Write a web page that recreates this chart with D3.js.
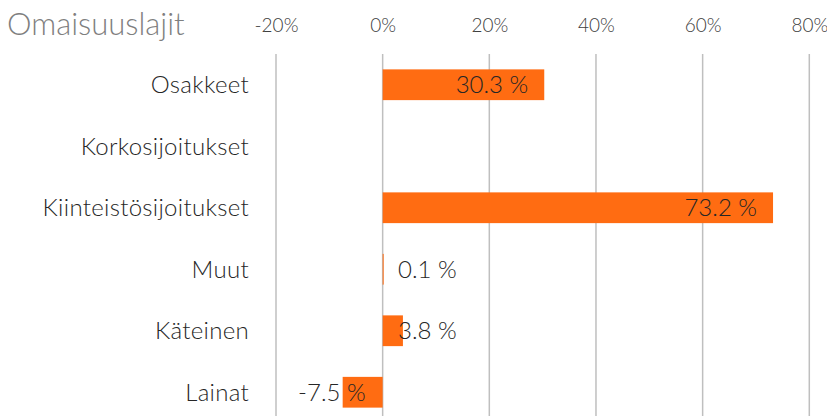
<!DOCTYPE html>
<html>
<head>
<meta charset="utf-8">
<script src="https://cdn.jsdelivr.net/npm/d3@7"></script>
<style>
  body { margin: 0; background: #fff; }
  text { font-family: Lato, "Open Sans", sans-serif; font-weight: 300; }
</style>
</head>
<body>
<div class="chart"></div>
<script>
const title = "Omaisuuslajit";
const categories = ["Osakkeet", "Korkosijoitukset", "Kiinteistösijoitukset", "Muut", "Käteinen", "Lainat"];
const values = [30.3, null, 73.2, 0.1, 3.8, -7.5];
const ticks = [-20, 0, 20, 40, 60, 80];

const width = 827, height = 416;

const svg = d3.select('.chart').append('svg')
  .attr('width', width)
  .attr('height', height);

const x = d3.scaleLinear()
  .domain([-20, 80])
  .range([276, 809.3]);

const y = d3.scaleBand()
  .domain(categories)
  .range([54, 423])
  .paddingInner(0.5)
  .paddingOuter(0.25);

// gridlines
svg.append('g')
  .selectAll('line')
  .data(ticks)
  .join('line')
  .attr('x1', d => x(d)).attr('x2', d => x(d))
  .attr('y1', 54).attr('y2', height)
  .attr('stroke', '#bfbfbf')
  .attr('stroke-width', 1.5);

// tick labels along top
const axis = d3.axisTop(x)
  .tickValues(ticks)
  .tickSize(0)
  .tickFormat(d => (d < 0 ? '-' + Math.abs(d) : d) + '%');

const ax = svg.append('g')
  .attr('transform', 'translate(0,32)')
  .call(axis);
ax.select('.domain').remove();
ax.selectAll('text')
  .attr('dy', 0)
  .attr('y', 0)
  .attr('fill', '#404040')
  .style('font-size', '19px');

// title
svg.append('text')
  .attr('x', 7)
  .attr('y', 35)
  .attr('fill', '#7f7f7f')
  .style('font-size', '31px')
  .text(title);

// category labels
svg.append('g')
  .selectAll('text')
  .data(categories)
  .join('text')
  .attr('x', 249)
  .attr('y', d => y(d) + y.bandwidth() / 2)
  .attr('dy', '0.35em')
  .attr('text-anchor', 'end')
  .attr('fill', '#262626')
  .style('font-size', '24px')
  .style('letter-spacing', '0.3px')
  .text(d => d);

const rows = categories.map((c, i) => ({ cat: c, v: values[i] })).filter(d => d.v != null);

// bars
svg.append('g')
  .selectAll('rect')
  .data(rows)
  .join('rect')
  .attr('x', d => x(Math.min(0, d.v)))
  .attr('y', d => y(d.cat))
  .attr('width', d => Math.max(1, Math.abs(x(d.v) - x(0))))
  .attr('height', y.bandwidth())
  .attr('fill', '#ff6c12');

// value labels
svg.append('g')
  .selectAll('text')
  .data(rows)
  .join('text')
  .attr('x', d => d.v >= 0 ? Math.max(x(d.v), x(0) + 90) - 16 : x(0) - 17)
  .attr('y', d => y(d.cat) + y.bandwidth() / 2)
  .attr('dy', '0.35em')
  .attr('text-anchor', 'end')
  .attr('fill', '#262626')
  .style('font-size', '24px')
  .text(d => (d.v < 0 ? '-' + Math.abs(d.v).toFixed(1) : d.v.toFixed(1)) + ' %');
</script>
</body>
</html>
